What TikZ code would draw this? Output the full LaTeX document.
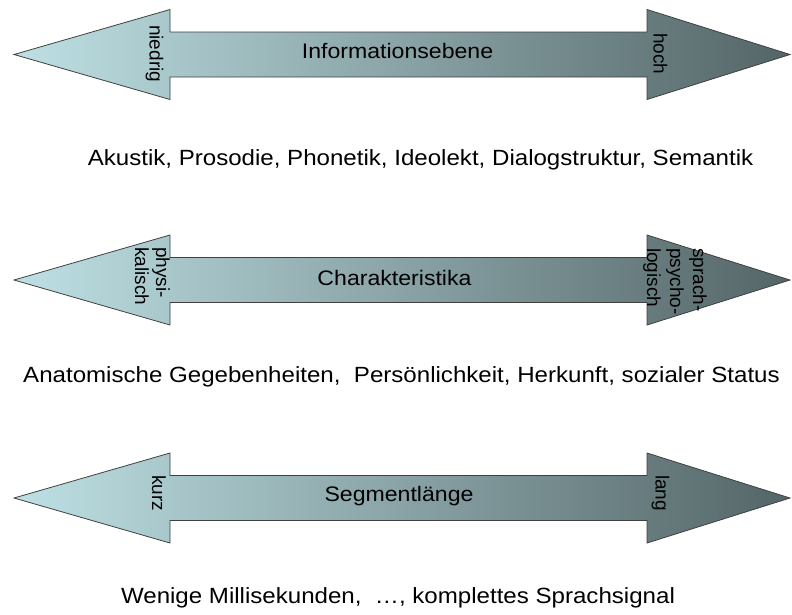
\documentclass[tikz,border=0pt]{standalone}
\usepackage{fontspec}
\setmainfont{Liberation Sans}
\newfontfamily\widefont{Liberation Sans}[FakeStretch=1.1]
\newfontfamily\widerfont{Liberation Sans}[FakeStretch=1.095]
\definecolor{arrL}{RGB}{190,224,228}
\definecolor{arrM}{RGB}{148,178,180}
\definecolor{arrR}{RGB}{84,101,103}
\definecolor{arrLine}{RGB}{64,64,64}
\tikzset{
  dblarrow/.style={draw=arrLine, line width=0.8pt, left color=arrL, middle color=arrM, right color=arrR},
  titletext/.style={inner sep=0pt, anchor=base, font=\widefont\fontsize{21}{24}\selectfont},
  bottomtext/.style={inner sep=0pt, anchor=base, font=\widerfont\fontsize{22}{24}\selectfont},
  endlabel/.style={inner sep=0pt, rotate=-90, anchor=west, font=\fontsize{19}{21}\selectfont},
  endlabelmulti/.style={inner sep=0pt, rotate=-90, anchor=north west, align=left, font=\fontsize{19}{21}\selectfont}
}
\newcommand{\dblarr}[1]{%
  \path[dblarrow] (14,#1) -- (170,#1-45) -- (170,#1-22.5) -- (647,#1-22.5) -- (647,#1-45)
    -- (790,#1) -- (647,#1+45) -- (647,#1+22.5) -- (170,#1+22.5) -- (170,#1+45) -- cycle;}
\begin{document}
\begin{tikzpicture}[x=1pt,y=-1pt]
\useasboundingbox (0,0) rectangle (792,614);
% arrows
\dblarr{54.5}
\dblarr{280}
\dblarr{498}
% arrow 1
\node[titletext] (info) at (397.5,58) {Informationsebene};
\node[endlabel] (niedrig) at (154.5,25) {niedrig};
\node[endlabel] (hoch) at (660.5,33) {hoch};
\node[bottomtext] (akustik) at (420.5,165) {Akustik, Prosodie, Phonetik, Ideolekt, Dialogstruktur, Semantik};
% arrow 2
\node[titletext] (charak) at (394.5,285) {Charakteristika};
\node[endlabelmulti] (physi) at (170,247) {physi-\\kalisch};
\node[endlabelmulti, font=\fontsize{19}{23}\selectfont] (sprach) at (707,248) {sprach-\\psycho-\\logisch};
\node[bottomtext] (anatom) at (401.5,382) {Anatomische Gegebenheiten,\ \ Persönlichkeit, Herkunft, sozialer Status};
% arrow 3
\node[titletext] (segment) at (399,501) {Segmentlänge};
\node[endlabel] (kurz) at (159,475) {kurz};
\node[endlabel] (lang) at (660.5,475) {lang};
\node[bottomtext] (wenige) at (398,603) {Wenige Millisekunden,\ \ …, komplettes Sprachsignal};
\end{tikzpicture}
\end{document}
